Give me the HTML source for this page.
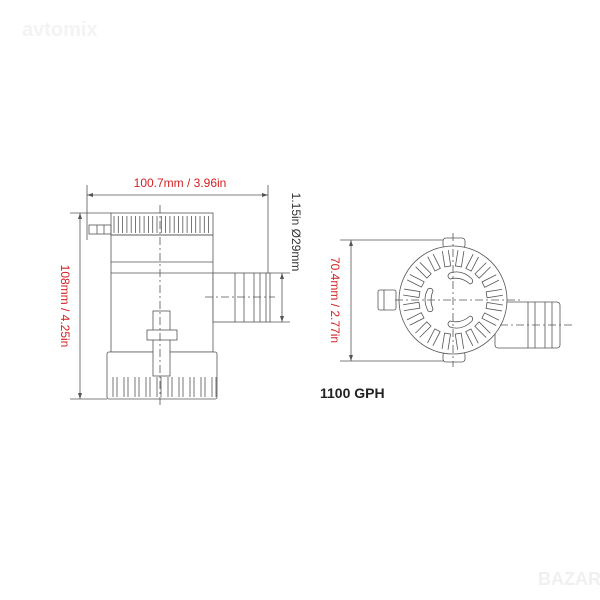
<!DOCTYPE html>
<html><head><meta charset="utf-8"><style>
html,body{margin:0;padding:0;background:#fff;}
svg{display:block;}
</style></head><body>
<svg id="s" width="600" height="600" viewBox="0 0 600 600" xmlns="http://www.w3.org/2000/svg" font-family="Liberation Sans, sans-serif">
<rect width="600" height="600" fill="#fff"/>
<text x="22" y="36" font-size="20" font-weight="bold" fill="#f3f3f3">avtomix</text>
<g stroke="#555" stroke-width="0.8" fill="none">
  <line x1="87" y1="185" x2="87" y2="240"/>
  <line x1="268" y1="185" x2="268" y2="275"/>
  <line x1="87" y1="195" x2="268" y2="195"/>
  <line x1="70" y1="213" x2="111" y2="213"/>
  <line x1="70" y1="399" x2="107" y2="399"/>
  <line x1="80" y1="213" x2="80" y2="399"/>
  <line x1="270" y1="273" x2="290" y2="273"/>
  <line x1="270" y1="322" x2="290" y2="322"/>
  <line x1="282" y1="273" x2="282" y2="322"/>
  <rect x="111" y="213" width="102" height="22" fill="#fff"/>
  <g id="capribs"></g>
  <rect x="111" y="235" width="102" height="117"/>
  <line x1="111" y1="262" x2="213" y2="262"/>
  <line x1="111" y1="273" x2="213" y2="273"/>
  <rect x="89" y="225" width="22" height="9"/>
  <line x1="97" y1="225" x2="97" y2="234"/><line x1="104" y1="225" x2="104" y2="234"/>
  <rect x="213" y="273" width="57" height="49" fill="#fff"/>
  <line x1="235" y1="273" x2="235" y2="322"/><line x1="244" y1="273" x2="244" y2="322"/>
  <line x1="254" y1="273" x2="254" y2="322"/><line x1="260" y1="273" x2="260" y2="322"/>
  <line x1="266" y1="273" x2="266" y2="322"/>
  <line x1="205" y1="297" x2="275" y2="297" stroke-dasharray="8,3,2,3"/>
  <rect x="107" y="352" width="110" height="47" rx="2" fill="#fff"/>
  <g id="baseribs"></g>
  <rect x="153" y="311" width="17" height="65" fill="#fff"/>
  <rect x="147" y="330" width="30" height="10" fill="#fff"/>
  <line x1="160" y1="205" x2="160" y2="405" stroke-dasharray="8,3,2,3"/>

  <line x1="340" y1="240" x2="460" y2="240"/>
  <line x1="340" y1="361" x2="460" y2="361"/>
  <line x1="351" y1="240" x2="351" y2="361"/>
  <rect x="495" y="302" width="65" height="46" rx="3" fill="#fff"/>
  <line x1="528" y1="302" x2="528" y2="348"/><line x1="535" y1="302" x2="535" y2="348"/>
  <line x1="545" y1="302" x2="545" y2="348"/><line x1="552" y1="302" x2="552" y2="348"/>
  <rect x="378" y="290" width="18" height="20" rx="2" fill="#fff"/>
  <line x1="384" y1="290" x2="384" y2="310"/>
  <rect x="443" y="238" width="22" height="10" rx="3" fill="#fff"/>
  <rect x="443" y="352" width="22" height="10" rx="3" fill="#fff"/>
  <circle cx="453" cy="300" r="54" fill="#fff"/>
  <g id="vents"></g>
  <path d="M450 273 q12 -4 22 6 q2 4 -2 5 q-9 -8 -20 -5 q-4 -3 0 -6z"/>
  <path d="M450 327 q12 4 22 -6 q2 -4 -2 -5 q-9 8 -20 5 q-4 3 0 6z"/>
  <path d="M428 289 q-6 10 0 22 q4 2 5 -2 q-4 -9 0 -18 q-1 -4 -5 -2z"/>
  <line x1="453" y1="233" x2="453" y2="367" stroke-dasharray="8,3,2,3"/>
  <line x1="395" y1="300" x2="520" y2="300" stroke-dasharray="8,3,2,3"/>
  <line x1="500" y1="325" x2="575" y2="325" stroke-dasharray="8,3,2,3"/>
</g>
<g fill="#555">
  <path d="M87 195 l6 -2 v4z M268 195 l-6 -2 v4z M80 213 l-2 6 h4z M80 399 l-2 -6 h4z M282 273 l-2 6 h4z M282 322 l-2 -6 h4z M351 240 l-2 6 h4z M351 361 l-2 -6 h4z"/>
</g>
<text x="180" y="187" font-size="12" fill="#d42020" text-anchor="middle">100.7mm / 3.96in</text>
<text transform="translate(61,306) rotate(90)" font-size="12" fill="#d42020" text-anchor="middle">108mm / 4.25in</text>
<text transform="translate(292,232) rotate(90)" font-size="12" fill="#333" text-anchor="middle">1.15in Ø29mm</text>
<text transform="translate(331,300) rotate(90)" font-size="12" fill="#d42020" text-anchor="middle">70.4mm / 2.77in</text>
<text x="320" y="398" font-size="14" font-weight="bold" fill="#222">1100 GPH</text>
<text x="538" y="585" font-size="18" font-weight="bold" fill="#f0f0f0">BAZAR</text>
</svg>
<script>
var ns="http://www.w3.org/2000/svg";
function ln(g,a,b,c,d){var l=document.createElementNS(ns,"line");l.setAttribute("x1",a);l.setAttribute("y1",b);l.setAttribute("x2",c);l.setAttribute("y2",d);g.appendChild(l);}
var g=document.getElementById("capribs");
for(var x=114;x<212;x+=4.3)ln(g,x,216,x,233);
g=document.getElementById("baseribs");
for(var x=113;x<214;x+=11){ln(g,x,377,x,397);ln(g,x+4,377,x+4,397);}
g=document.getElementById("vents");
for(var i=0;i<20;i++){var a=i*Math.PI/10+0.16;var c=Math.cos(a),s=Math.sin(a);
 var p=document.createElementNS(ns,"path");
 var x1=453+34*c,y1=300+34*s,x2=453+50*c,y2=300+50*s,dx=-s*3,dy=c*3;
 p.setAttribute("d","M"+(x2+dx)+" "+(y2+dy)+"L"+(x1+dx)+" "+(y1+dy)+"L"+(x1-dx)+" "+(y1-dy)+"L"+(x2-dx)+" "+(y2-dy));
 g.appendChild(p);}
</script>
</body></html>
